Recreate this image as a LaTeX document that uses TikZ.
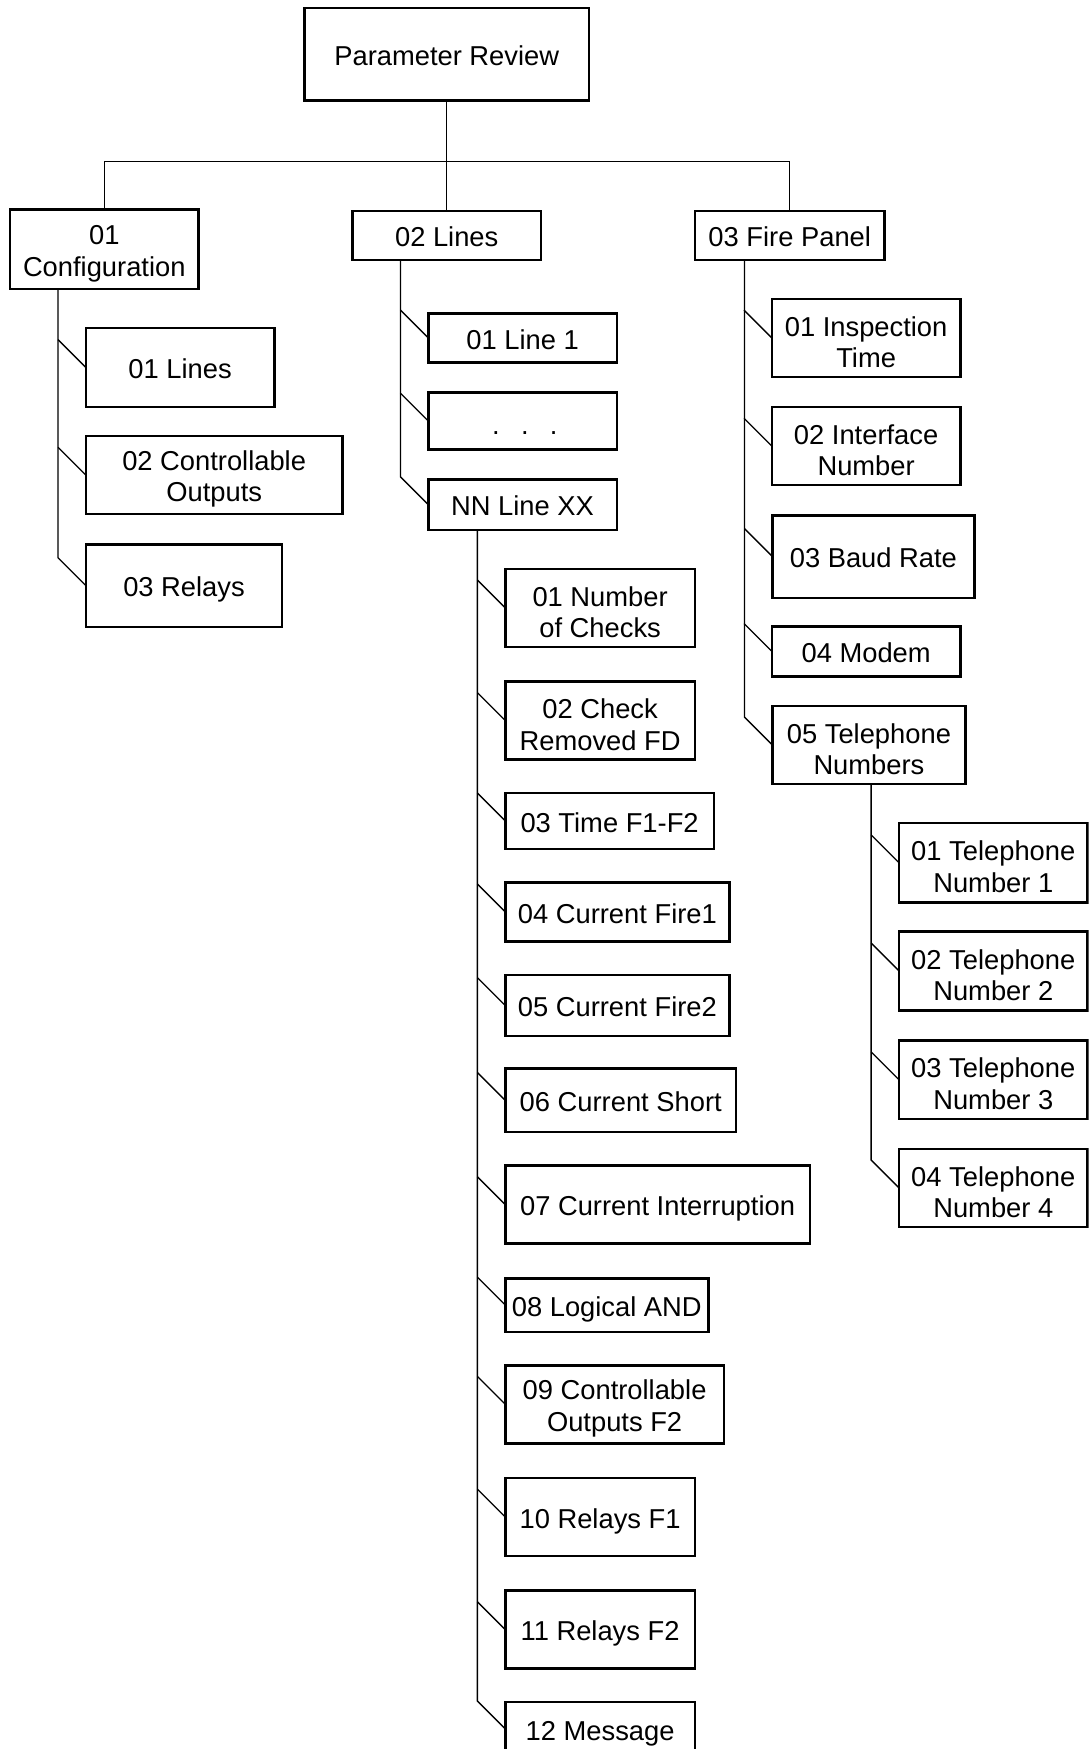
\documentclass[tikz,border=0pt]{standalone}
\usepackage{fontspec}
\setmainfont{Liberation Sans}
\newcommand\mybox[6]{\node[box,#1,minimum width=#4pt,minimum height=#5pt] (#2) at (#3) {#6};}
\newcommand\myst{\rule{0pt}{25pt}}
\begin{document}
\begin{tikzpicture}[x=1pt,y=-1pt,
  box/.style={draw, line width=2.2pt, inner sep=0pt, outer sep=0pt, align=center,
              font=\fontsize{24.5}{28}\selectfont},
  one/.style={text height=20pt, text depth=0pt},
  two/.style={},
  conn/.style={line width=1.2pt}]
\clip (0,0) rectangle (976,1568);
\fill[white] (0,0) rectangle (976,1568);

% root and level 1
\mybox{one}{root}{400.5,48.5}{255}{83}{Parameter Review}
\mybox{two}{n1}{93.5,223.5}{169}{71}{\myst01\\Configuration}
\mybox{one}{n2}{400.5,211}{169}{44}{02 Lines}
\mybox{one}{n3}{708,211}{170}{44}{03 Fire Panel}

% configuration children
\mybox{one}{c11}{161.5,329.5}{169}{71}{01 Lines}
\mybox{two}{c12}{192,426}{230}{70}{\myst02 Controllable\\Outputs}
\mybox{one}{c13}{165,525}{176}{74}{03 Relays}

% lines children
\mybox{one}{l1}{468.5,303}{169}{44}{01 Line 1}
\node[box,minimum width=169pt,minimum height=51pt,text height=24pt,text depth=0pt] (l2) at (468.5,377.5) {\hspace{4pt}.\hspace{19pt}.\hspace{19pt}.};
\mybox{one}{l3}{468.5,452.5}{169}{45}{NN Line XX}

% NN line children
\mybox{two}{m1}{538,545}{170}{70}{\myst01 Number\\of Checks}
\mybox{two}{m2}{538,646}{170}{70}{\myst02 Check\\Removed FD}
\mybox{one}{m3}{546.5,736}{187}{50}{03 Time F1-F2}
\mybox{one}{m4}{553.5,817.5}{201}{53}{04 Current Fire1}
\mybox{one}{m5}{553.5,901.5}{201}{55}{05 Current Fire2}
\mybox{one}{m6}{556.5,986.5}{207}{57}{06 Current Short}
\mybox{one}{m7}{589.5,1080}{273}{70}{07 Current Interruption}
\mybox{one}{m8}{544,1170}{182}{48}{08 Logical AND}
\mybox{two}{m9}{551,1259}{196}{70}{\myst09 Controllable\\Outputs F2}
\mybox{one}{m10}{538,1360}{170}{70}{10 Relays F1}
\mybox{one}{m11}{538,1461}{170}{70}{11 Relays F2}
\mybox{one}{m12}{538,1550}{170}{48}{12 Message}

% fire panel children
\mybox{two}{f1}{776.5,303}{169}{70}{\myst01 Inspection\\Time}
\mybox{two}{f2}{776.5,400}{169}{70}{\myst02 Interface\\Number}
\mybox{one}{f3}{783,499}{181}{74}{03 Baud Rate}
\mybox{one}{f4}{776.5,584}{169}{45}{04 Modem}
\mybox{two}{f5}{779,668}{173}{70}{\myst05 Telephone\\Numbers}

% telephone children
\mybox{two}{p1}{890.5,773.5}{169}{71}{\myst01 Telephone\\Number 1}
\mybox{two}{p2}{890.5,870.5}{169}{71}{\myst02 Telephone\\Number 2}
\mybox{two}{p3}{890.5,968}{169}{70}{\myst03 Telephone\\Number 3}
\mybox{two}{p4}{890.5,1065}{169}{70}{\myst04 Telephone\\Number 4}

% top bus
\coordinate (bus) at (0,145);
\draw[conn] (root.south) -- (root.south |- bus);
\draw[conn] (n1.north) -- (n1.north |- bus) -- (n3.north |- bus) -- (n3.north);
\draw[conn] (n2.north) -- (n2.north |- bus);

% configuration group
\path (c13.west) ++(-25,-25) coordinate (k1);
\draw[conn] (n1.south -| k1) -- (k1) -- (c13.west);
\foreach \c in {c11,c12} \draw[conn] (\c.west) -- ++(-25,-25);

% lines group
\path (l3.west) ++(-25,-25) coordinate (k2);
\draw[conn] (n2.south -| k2) -- (k2) -- (l3.west);
\foreach \c in {l1,l2} \draw[conn] (\c.west) -- ++(-25,-25);

% NN line group
\path (m12.west) ++(-25,-25) coordinate (k3);
\draw[conn] (l3.south -| k3) -- (k3) -- (m12.west);
\foreach \c in {m1,m2,m3,m4,m5,m6,m7,m8,m9,m10,m11} \draw[conn] (\c.west) -- ++(-25,-25);

% fire panel group
\path (f5.west) ++(-25,-25) coordinate (k4);
\draw[conn] (n3.south -| k4) -- (k4) -- (f5.west);
\foreach \c in {f1,f2,f3,f4} \draw[conn] (\c.west) -- ++(-25,-25);

% telephone group
\path (p4.west) ++(-25,-25) coordinate (k5);
\draw[conn] (f5.south -| k5) -- (k5) -- (p4.west);
\foreach \c in {p1,p2,p3} \draw[conn] (\c.west) -- ++(-25,-25);
\end{tikzpicture}
\end{document}
